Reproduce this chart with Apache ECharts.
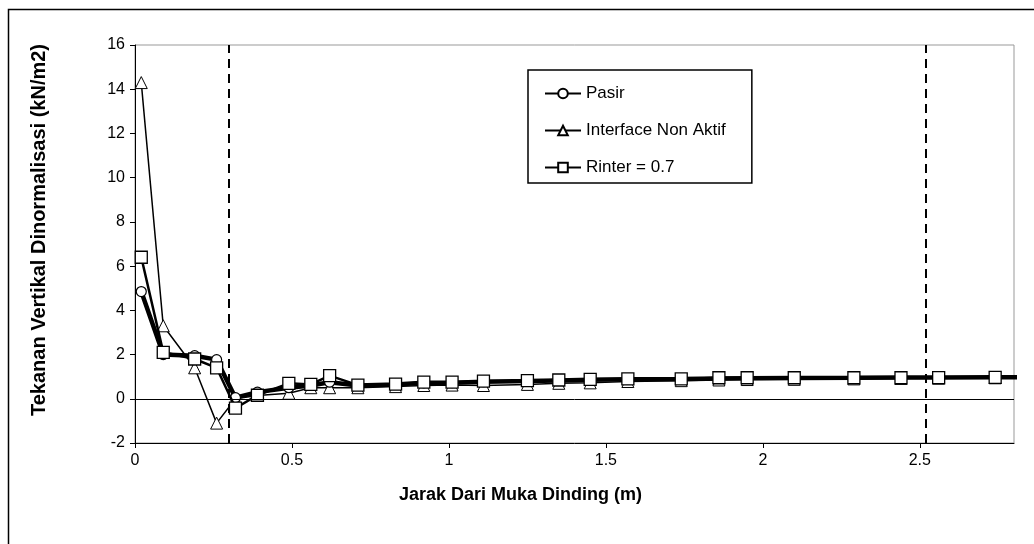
<!DOCTYPE html>
<html><head><meta charset="utf-8">
<script src="https://cdn.jsdelivr.net/npm/echarts@6/dist/echarts.min.js"></script>
<style>html,body{margin:0;padding:0;background:#fff}#c{width:1034px;height:544px}</style>
</head><body><div id="c"></div>
<script>
// distance from wall face (m)
const xValues = [0.02, 0.09, 0.19, 0.26, 0.32, 0.39, 0.49, 0.56, 0.62, 0.71, 0.83, 0.92, 1.01, 1.11, 1.25, 1.35, 1.45, 1.57, 1.74, 1.86, 1.95, 2.10, 2.29, 2.44, 2.56, 2.74, 2.90];
const pasir = [4.85, 2.0, 1.95, 1.77, 0.05, 0.3, 0.5, 0.6, 0.75, 0.6, 0.65, 0.72, 0.73, 0.77, 0.8, 0.83, 0.86, 0.88, 0.9, 0.92, 0.93, 0.94, 0.95, 0.96, 0.96, 0.97, 0.98];
const interfaceNonAktif = [14.3, 3.3, 1.4, -1.1, 0.0, 0.15, 0.25, 0.5, 0.5, 0.5, 0.55, 0.6, 0.62, 0.6, 0.65, 0.7, 0.72, 0.78, 0.82, 0.85, 0.87, 0.88, 0.9, 0.92, 0.93, 0.95, 0.96];
const rinter07 = [6.4, 2.1, 1.8, 1.4, -0.42, 0.16, 0.7, 0.65, 1.05, 0.62, 0.66, 0.75, 0.75, 0.8, 0.82, 0.85, 0.88, 0.9, 0.9, 0.95, 0.95, 0.95, 0.95, 0.95, 0.96, 0.97, 0.98];
const seriesNames = ['Pasir', 'Interface Non Aktif', 'Rinter = 0.7'];
const dashedLinesX = [0.3, 2.52];
const xAxisTitle = 'Jarak Dari Muka Dinding (m)';
const yAxisTitle = 'Tekanan Vertikal Dinormalisasi (kN/m2)';

const pair = ys => xValues.map((x, i) => [x, ys[i]]);
const FONT = 'Liberation Sans, Arial, sans-serif';

const chart = echarts.init(document.getElementById('c'), null, {renderer: 'canvas'});
chart.setOption({
  animation: false,
  backgroundColor: '#fff',
  graphic: [{
    type: 'rect', left: 6, top: 7, z: -10, silent: true,
    shape: {width: 1100, height: 600},
    style: {fill: 'none', stroke: '#000', lineWidth: 1.5}
  }],
  grid: {left: 135, right: 20, top: 45, bottom: 101, show: true, borderColor: '#999', borderWidth: 1, backgroundColor: 'transparent'},
  legend: {
    orient: 'vertical', left: 528, top: 70,
    data: seriesNames,
    itemWidth: 36, itemHeight: 12, itemGap: 20,
    padding: [15, 26, 7, 16],
    borderColor: '#000', borderWidth: 1.5, backgroundColor: '#fff',
    textStyle: {fontFamily: FONT, fontSize: 17, color: '#000'}
  },
  xAxis: {
    type: 'value', min: 0, max: 2.8, interval: 0.5,
    name: xAxisTitle, nameLocation: 'middle', nameGap: 43,
    nameTextStyle: {fontFamily: FONT, fontSize: 18, fontWeight: 'bold', color: '#000', padding: [0, 108, 0, 0]},
    axisLine: {show: true, onZero: false, lineStyle: {color: '#000', width: 1}},
    axisTick: {show: true, length: 5, lineStyle: {color: '#000'}},
    axisLabel: {fontFamily: FONT, fontSize: 16, color: '#000', margin: 10, showMaxLabel: false},
    splitLine: {show: false}
  },
  yAxis: {
    type: 'value', min: -2, max: 16, interval: 2,
    name: yAxisTitle, nameLocation: 'middle', nameGap: 86,
    nameTextStyle: {fontFamily: FONT, fontSize: 20, fontWeight: 'bold', color: '#000', padding: [0, 0, 0, 28]},
    axisLine: {show: true, onZero: false, lineStyle: {color: '#000', width: 1}},
    axisTick: {show: true, length: 5, lineStyle: {color: '#000'}},
    axisLabel: {fontFamily: FONT, fontSize: 16, color: '#000', margin: 10},
    splitLine: {show: false}
  },
  series: [
    {
      name: seriesNames[0], type: 'line', data: pair(pasir), z: 3,
      symbol: 'circle', symbolSize: 10, showAllSymbol: true,
      lineStyle: {color: '#000', width: 4.5},
      itemStyle: {color: '#fff', borderColor: '#000', borderWidth: 1.2},
      markLine: {
        silent: true, symbol: 'none', label: {show: false}, animation: false,
        data: [
          ...dashedLinesX.map(v => ({xAxis: v, lineStyle: {type: [9, 6], color: '#000', width: 2}})),
          {yAxis: 0, lineStyle: {type: 'solid', color: '#000', width: 1}}
        ]
      }
    },
    {
      name: seriesNames[1], type: 'line', data: pair(interfaceNonAktif), z: 2,
      symbol: 'triangle', symbolSize: 12, showAllSymbol: true,
      lineStyle: {color: '#000', width: 1.5},
      itemStyle: {color: '#fff', borderColor: '#000', borderWidth: 1}
    },
    {
      name: seriesNames[2], type: 'line', data: pair(rinter07), z: 4,
      symbol: 'rect', symbolSize: 12, showAllSymbol: true,
      lineStyle: {color: '#000', width: 2.5},
      itemStyle: {color: '#fff', borderColor: '#000', borderWidth: 1.3}
    }
  ]
});
</script></body></html>
